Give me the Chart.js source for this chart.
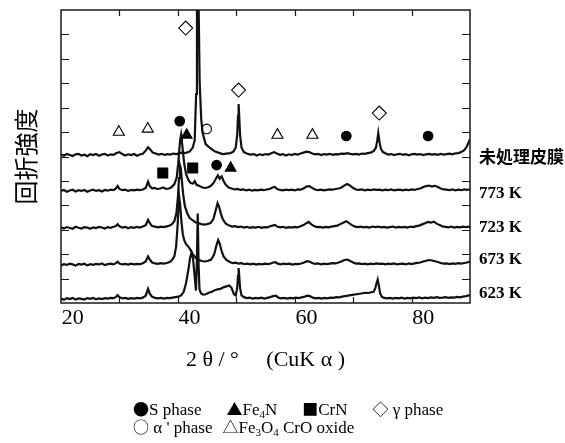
<!DOCTYPE html>
<html><head><meta charset="utf-8">
<script src="https://cdn.jsdelivr.net/npm/chart.js@4.4.1/dist/chart.umd.min.js"></script>
<style>
html,body{margin:0;padding:0;background:#fff;}
#wrap{position:relative;width:565px;height:443px;overflow:hidden;}
#c{position:absolute;left:0;top:0;}
#legend{position:absolute;left:133px;top:400px;font-family:"Liberation Serif",serif;font-size:17px;line-height:16px;color:#000;white-space:pre;}
#legend sub{font-size:11px;line-height:0;vertical-align:-3px;}
#legend .s{font-family:"Noto Sans CJK JP",sans-serif;font-size:16px;}
#legend .g{display:inline-block;width:25px;}
#legend .h{display:inline-block;width:10px;}
</style></head><body>
<div id="wrap"><canvas id="c" width="565" height="443"></canvas>
<div id="legend"><span class="s">●</span>S phase<span class="g"></span><span class="s">▲</span>Fe<sub>4</sub>N<span class="g"></span><span class="s">■</span>CrN<span class="g"></span><span class="s">◇</span> γ phase
<span class="s">○</span> α ' phase<span class="h"></span><span class="s">△</span>Fe<sub>3</sub>O<sub>4</sub> CrO oxide</div></div>
<script>
// ---- data: 2θ (deg, as read against the tick labels) , intensity (arb. units above each baseline)
const xTickLabels = [20, 40, 60, 80];
const traceNames = ['未処理皮膜', '773 K', '723 K', '673 K', '623 K'];
const patternOffsets = [6.06, 4.59, 3.07, 1.56, 0.16];

const pattern_untreated = [[18,0.02],[18.5,-0.03],[19,0.04],[19.5,0],[20,-0.04],[20.5,0.03],[21,0.05],[21.5,-0.02],[22,0.01],[22.5,-0.05],[23,0.03],[23.5,0],[24,0.04],[24.5,-0.03],[25,0.02],[25.5,0.05],[26,-0.02],[26.5,0.03],[27,0.01],[27.5,0.08],[28,0.12],[28.5,0.04],[29,-0.02],[29.5,0.03],[30,0],[30.5,0.04],[31,-0.03],[31.5,0.02],[32,0.05],[32.5,0.18],[32.9,0.32],[33.3,0.22],[33.7,0.1],[34.2,0.06],[34.7,0.02],[35.2,0.05],[35.7,0.01],[36.2,0.04],[36.7,0.02],[37.2,0.06],[37.7,0.04],[38.2,0.07],[38.6,0.1],[39,0.08],[39.5,0.1],[40,0.14],[40.54,0.3],[40.88,0.6],[41.13,2.5],[41.27,6],[41.39,9.5],[41.56,6],[41.73,3],[41.99,1.5],[42.24,0.9],[42.76,0.45],[43.44,0.3],[44.3,0.15],[45.15,0.08],[45.7,0.04],[46.3,0.06],[47,0.08],[47.5,0.14],[47.9,0.3],[48.15,0.8],[48.3,1.6],[48.4,2.09],[48.5,1.6],[48.65,0.8],[48.9,0.3],[49.3,0.12],[49.8,0.06],[50.4,0.02],[51,0.04],[51.5,-0.02],[52,0.03],[52.5,0],[53,0.04],[53.5,0.02],[54,0.07],[54.5,0.12],[55,0.05],[55.5,0.01],[56,0.04],[56.5,-0.02],[57,0.03],[57.5,0],[58,0.05],[58.5,0.02],[59,0.06],[59.5,0.1],[60,0.14],[60.5,0.12],[61,0.06],[61.5,0.03],[62,0.05],[62.5,0],[63,0.04],[63.5,0.02],[64,0.05],[64.5,0.01],[65,0.04],[65.5,0.03],[66,0.06],[66.5,0.05],[67,0.08],[67.5,0.05],[68,0.03],[68.5,0.05],[69,0.02],[69.5,0.06],[70,0.05],[70.5,0.08],[71,0.1],[71.5,0.16],[71.9,0.3],[72.1,0.55],[72.3,0.9],[72.5,0.55],[72.75,0.25],[73.1,0.12],[73.6,0.06],[74,0.02],[74.5,0.04],[75,0],[75.5,0.03],[76,0.05],[76.5,0.01],[77,0.04],[77.5,-0.01],[78,0.03],[78.5,0.05],[79,0.02],[79.5,0.04],[80,0],[80.5,0.03],[81,0.05],[81.5,0.02],[82,0.04],[82.5,0.01],[83,0.05],[83.5,0.02],[84,0.04],[84.5,0.06],[85,0.03],[85.5,0.07],[86,0.08],[86.5,0.12],[87,0.2],[87.4,0.32],[87.7,0.48],[88,0.65]];

const pattern_773K = [[18,0],[18.5,0.04],[19,-0.03],[19.5,0.02],[20,0.05],[20.5,-0.02],[21,0.03],[21.5,0],[22,0.04],[22.5,-0.03],[23,0.02],[23.5,0.05],[24,0],[24.5,0.03],[25,-0.02],[25.5,0.04],[26,0.01],[26.5,0.05],[27,0.03],[27.4,0.1],[27.7,0.2],[28,0.08],[28.5,0.03],[29,0.05],[29.5,0],[30,0.04],[30.5,0.02],[31,0.05],[31.5,0.03],[32,0.06],[32.5,0.12],[32.9,0.38],[33.2,0.2],[33.6,0.1],[34,0.12],[34.5,0.08],[35,0.1],[35.5,0.14],[36,0.08],[36.5,0.1],[36.9,0.15],[37.4,0.28],[37.8,0.55],[38.05,1.1],[38.25,1.7],[38.4,2.1],[38.55,2.3],[38.7,2],[38.9,1.55],[39.1,1.1],[39.4,0.7],[39.8,0.45],[40.2,0.32],[40.6,0.3],[40.9,0.4],[41.2,0.25],[41.7,0.2],[42.2,0.14],[42.7,0.12],[43.2,0.15],[43.6,0.2],[44.1,0.32],[44.5,0.5],[44.85,0.64],[45.15,0.5],[45.5,0.6],[45.8,0.42],[46.2,0.25],[46.7,0.14],[47.2,0.1],[47.7,0.06],[48.2,0.08],[48.7,0.04],[49.2,0.06],[49.7,0.02],[50.2,0.05],[50.7,0.01],[51.2,0.04],[51.7,0.02],[52.2,0.05],[52.7,0.03],[53.2,0.06],[53.7,0.08],[54.2,0.14],[54.6,0.16],[55,0.08],[55.5,0.04],[56,0.02],[56.5,0.05],[57,0.03],[57.5,0.05],[58,0.02],[58.5,0.06],[59,0.05],[59.5,0.1],[60,0.18],[60.5,0.2],[61,0.12],[61.5,0.06],[62,0.03],[62.5,0.05],[63,0.02],[63.5,0.04],[64,0.06],[64.5,0.05],[65,0.08],[65.5,0.1],[66,0.14],[66.5,0.22],[67,0.28],[67.5,0.22],[68,0.12],[68.5,0.06],[69,0.04],[69.5,0.06],[70,0.02],[70.5,0.05],[71,0.03],[71.5,0.06],[72,0.04],[72.5,0.05],[73,0.02],[73.5,0.05],[74,0.03],[74.5,0.06],[75,0.02],[75.5,0.04],[76,0.05],[76.5,0.02],[77,0.05],[77.5,0.03],[78,0.06],[78.5,0.04],[79,0.08],[79.5,0.1],[80,0.16],[80.5,0.2],[81,0.22],[81.5,0.18],[82,0.21],[82.5,0.16],[83,0.1],[83.5,0.06],[84,0.05],[84.5,0.03],[85,0.06],[85.5,0.02],[86,0.05],[86.5,0.03],[87,0.06],[87.5,0.04],[88,0.07]];

const pattern_723K = [[18,0.03],[18.5,-0.02],[19,0.04],[19.5,0],[20,-0.03],[20.5,0.05],[21,0.01],[21.5,-0.02],[22,0.04],[22.5,0.02],[23,-0.03],[23.5,0.03],[24,0],[24.5,0.05],[25,0.02],[25.5,-0.02],[26,0.04],[26.5,0.01],[27,0.05],[27.4,0.08],[27.7,0.16],[28,0.07],[28.5,0.02],[29,0.05],[29.5,-0.01],[30,0.04],[30.5,0.01],[31,0.05],[31.5,0.02],[32,0.06],[32.5,0.12],[32.9,0.34],[33.2,0.2],[33.6,0.08],[34.1,0.06],[34.6,0.03],[35.1,0.06],[35.6,0.04],[36.1,0.07],[36.6,0.1],[37,0.16],[37.4,0.28],[37.75,0.6],[38,1.25],[38.2,2.05],[38.35,2.58],[38.5,2.45],[38.7,1.9],[38.9,1.4],[39.2,0.9],[39.6,0.6],[40,0.42],[40.5,0.32],[41,0.24],[41.5,0.2],[42,0.16],[42.5,0.14],[43,0.16],[43.6,0.2],[44.1,0.38],[44.5,0.75],[44.8,1.02],[45.05,0.88],[45.35,0.6],[45.7,0.36],[46.2,0.18],[46.8,0.1],[47.3,0.06],[47.8,0.08],[48.3,0.04],[48.8,0.06],[49.3,0.02],[49.8,0.05],[50.3,0.01],[50.8,0.04],[51.3,0.02],[51.8,0.05],[52.3,0.01],[52.8,0.04],[53.3,0.03],[53.8,0.07],[54.2,0.1],[54.6,0.13],[55,0.06],[55.5,0.03],[56,0.05],[56.5,0.01],[57,0.04],[57.5,0.02],[58,0.05],[58.5,0.03],[59,0.07],[59.5,0.12],[60,0.2],[60.4,0.25],[60.8,0.16],[61.3,0.08],[61.8,0.04],[62.3,0.05],[62.8,0.02],[63.3,0.05],[63.8,0.03],[64.3,0.06],[64.8,0.08],[65.3,0.1],[65.8,0.16],[66.3,0.22],[66.8,0.28],[67.3,0.2],[67.8,0.12],[68.3,0.06],[68.8,0.04],[69.3,0.06],[69.8,0.03],[70.3,0.05],[70.8,0.02],[71.3,0.06],[71.8,0.04],[72.3,0.06],[72.8,0.03],[73.3,0.05],[73.8,0.02],[74.3,0.04],[74.8,0.06],[75.3,0.02],[75.8,0.05],[76.3,0.03],[76.8,0.05],[77.3,0.02],[77.8,0.06],[78.3,0.04],[78.8,0.08],[79.3,0.1],[79.8,0.15],[80.3,0.2],[80.8,0.25],[81.3,0.22],[81.8,0.26],[82.3,0.18],[82.8,0.12],[83.3,0.07],[83.8,0.05],[84.3,0.03],[84.8,0.06],[85.3,0.02],[85.8,0.05],[86.3,0.03],[86.8,0.06],[87.3,0.04],[88,0.06]];

const pattern_673K = [[18,-0.02],[18.5,0.03],[19,0],[19.5,0.05],[20,0.02],[20.5,-0.03],[21,0.04],[21.5,0.01],[22,0.05],[22.5,-0.02],[23,0.03],[23.5,0],[24,0.04],[24.5,0.02],[25,0.06],[25.5,-0.01],[26,0.03],[26.5,0.05],[27,0.02],[27.4,0.07],[27.7,0.13],[28,0.06],[28.5,0.02],[29,0.04],[29.5,0.01],[30,0.05],[30.5,0.02],[31,0.04],[31.5,0.03],[32,0.07],[32.5,0.14],[32.9,0.35],[33.2,0.22],[33.6,0.1],[34.1,0.06],[34.6,0.04],[35.1,0.07],[35.6,0.05],[36.1,0.08],[36.6,0.12],[37,0.2],[37.4,0.35],[37.7,0.75],[37.95,1.6],[38.1,2.3],[38.25,2.74],[38.4,2.45],[38.6,1.8],[38.85,1.25],[39.1,1],[39.4,0.85],[39.8,0.75],[40.2,0.6],[40.6,0.42],[41.1,0.28],[41.6,0.2],[42.1,0.16],[42.6,0.14],[43.1,0.16],[43.7,0.22],[44.2,0.42],[44.6,0.8],[44.9,1.02],[45.15,0.88],[45.45,0.6],[45.8,0.36],[46.3,0.2],[46.9,0.12],[47.4,0.07],[47.9,0.09],[48.4,0.05],[48.9,0.07],[49.4,0.03],[49.9,0.05],[50.4,0.02],[50.9,0.05],[51.4,0.01],[51.9,0.04],[52.4,0.02],[52.9,0.05],[53.4,0.03],[53.9,0.06],[54.3,0.1],[54.7,0.11],[55.1,0.05],[55.6,0.02],[56.1,0.05],[56.6,0.03],[57.1,0.05],[57.6,0.01],[58.1,0.04],[58.6,0.03],[59.1,0.06],[59.6,0.1],[60.1,0.15],[60.5,0.14],[61,0.08],[61.5,0.04],[62,0.06],[62.5,0.02],[63,0.05],[63.5,0.03],[64,0.05],[64.5,0.07],[65,0.06],[65.5,0.1],[66,0.14],[66.5,0.2],[67,0.22],[67.5,0.16],[68,0.1],[68.5,0.05],[69,0.06],[69.5,0.03],[70,0.05],[70.5,0.02],[71,0.05],[71.5,0.03],[72,0.06],[72.5,0.04],[73,0.05],[73.5,0.02],[74,0.05],[74.5,0.03],[75,0.06],[75.5,0.02],[76,0.04],[76.5,0.05],[77,0.02],[77.5,0.06],[78,0.03],[78.5,0.06],[79,0.08],[79.5,0.1],[80,0.14],[80.5,0.17],[81,0.2],[81.5,0.18],[82,0.15],[82.5,0.12],[83,0.08],[83.5,0.05],[84,0.06],[84.5,0.03],[85,0.06],[85.5,0.04],[86,0.07],[86.5,0.05],[87,0.08],[87.5,0.1],[88,0.14]];

const pattern_623K = [[18,0.02],[18.5,-0.03],[19,0.04],[19.5,0],[20,0.05],[20.5,-0.02],[21,0.03],[21.5,0.01],[22,-0.02],[22.5,0.04],[23,0.01],[23.5,0.05],[24,-0.01],[24.5,0.03],[25,0],[25.5,0.04],[26,0.02],[26.5,0.05],[27,0.04],[27.4,0.09],[27.7,0.16],[28,0.08],[28.5,0.03],[29,0.05],[29.5,0.01],[30,0.04],[30.5,0.02],[31,0.05],[31.5,0.03],[32,0.06],[32.5,0.14],[32.9,0.42],[33.2,0.22],[33.6,0.09],[34.1,0.05],[34.6,0.03],[35.1,0.05],[35.6,0.02],[36.1,0.05],[36.6,0.04],[37.1,0.06],[37.6,0.08],[38.1,0.1],[38.6,0.16],[39,0.3],[39.4,0.65],[39.8,1.2],[40.1,1.7],[40.35,1.9],[40.6,1.65],[40.85,1],[41.1,0.35],[41.25,1.5],[41.4,3.5],[41.55,1.4],[41.7,0.4],[41.95,0.24],[42.3,0.18],[42.8,0.2],[43.3,0.26],[43.8,0.3],[44.3,0.36],[44.8,0.4],[45.3,0.42],[45.8,0.48],[46.3,0.52],[46.8,0.56],[47.2,0.45],[47.6,0.2],[47.9,0.15],[48.15,0.45],[48.3,0.95],[48.4,1.27],[48.5,0.95],[48.65,0.45],[48.9,0.15],[49.3,0.08],[49.8,0.04],[50.3,0.06],[50.8,0.02],[51.3,0.05],[51.8,0.03],[52.3,0.06],[52.8,0.02],[53.3,0.05],[53.8,0.08],[54.3,0.12],[54.8,0.14],[55.2,0.06],[55.7,0.03],[56.2,0.05],[56.7,0.02],[57.2,0.05],[57.7,0.03],[58.2,0.06],[58.7,0.04],[59.2,0.07],[59.7,0.1],[60.2,0.14],[60.6,0.12],[61.1,0.06],[61.6,0.03],[62.1,0.05],[62.6,0.02],[63.1,0.05],[63.6,0.03],[64.1,0.06],[64.6,0.05],[65.1,0.08],[65.6,0.07],[66.1,0.1],[66.6,0.12],[67.1,0.14],[67.6,0.16],[68.1,0.18],[68.6,0.2],[69.1,0.22],[69.6,0.24],[70.1,0.26],[70.6,0.25],[71.1,0.28],[71.5,0.3],[71.8,0.45],[72,0.65],[72.2,0.8],[72.4,0.55],[72.6,0.25],[72.9,0.1],[73.3,0.05],[73.8,0.03],[74.3,0.05],[74.8,0.02],[75.3,0.05],[75.8,0.03],[76.3,0.06],[76.8,0.02],[77.3,0.05],[77.8,0.03],[78.3,0.06],[78.8,0.04],[79.3,0.07],[79.8,0.03],[80.3,0.06],[80.8,0.04],[81.3,0.07],[81.8,0.05],[82.3,0.08],[82.8,0.05],[83.3,0.06],[83.8,0.08],[84.3,0.05],[84.8,0.07],[85.3,0.06],[85.8,0.09],[86.3,0.07],[86.8,0.1],[87.3,0.12],[88,0.16]];

// phase marker positions (2θ, plot height)
const mark_S = [[38.32,7.45],[66.83,6.84],[80.83,6.84],[44.63,5.65]];
const mark_Fe4N = [[39.51,6.88],[47.03,5.53]];
const mark_CrN = [[35.42,5.32],[40.54,5.53]];
const mark_gamma = [[39.34,11.26],[48.39,8.72],[72.47,7.78]];
const mark_alphaPrime = [[42.93,7.13]];
const mark_oxide = [[27.9,7.0],[32.85,7.13],[55.05,6.88],[61.03,6.88]];

const innerTickX = [28, 38, 48, 58, 68, 78];
const innerTickY = [1,2,3,4,5,6,7,8,9,10,11];
</script>
<script>
const patterns = [pattern_untreated, pattern_773K, pattern_723K, pattern_673K, pattern_623K];
const traceLabelShift = [-0.06, -0.1, 0.0, 0.2, 0.22];

const traceSets = patterns.map((p, i) => ({
  label: traceNames[i],
  data: p.map(([x, y]) => ({x, y: y + patternOffsets[i]})),
  showLine: true, borderColor: '#111', borderWidth: 2.2,
  pointRadius: 0, pointHoverRadius: 0, fill: false, tension: 0, order: 2
}));
function markSet(name, pts, style, filled, r) {
  return {
    label: name, data: pts.map(([x, y]) => ({x, y})), showLine: false,
    pointStyle: style, pointRadius: r, pointHoverRadius: r,
    pointBackgroundColor: filled ? '#000' : 'rgba(0,0,0,0)',
    pointBorderColor: '#000', pointBorderWidth: 1.1, order: 1
  };
}
const markSets = [
  markSet('S phase', mark_S, 'circle', true, 4.8),
  markSet('Fe4N', mark_Fe4N, 'triangle', true, 6.2),
  markSet('CrN', mark_CrN, 'rect', true, 7),
  markSet('γ phase', mark_gamma, 'rectRot', false, 7),
  markSet("α' phase", mark_alphaPrime, 'circle', false, 4.8),
  markSet('Fe3O4 CrO oxide', mark_oxide, 'triangle', false, 6.4)
];

const framePlugin = {
  id: 'frame',
  afterDatasetsDraw(chart) {
    const {ctx, chartArea: {left, right, top, bottom}, scales: {x, y}} = chart;
    ctx.save();
    ctx.strokeStyle = '#1a1a1a';
    ctx.lineWidth = 1.5;
    ctx.strokeRect(left, top, right - left, bottom - top);
    ctx.lineWidth = 1.2;
    ctx.beginPath();
    innerTickX.forEach(v => {
      const px = Math.round(x.getPixelForValue(v)) + 0.5;
      ctx.moveTo(px, top); ctx.lineTo(px, top + 6);
      ctx.moveTo(px, bottom); ctx.lineTo(px, bottom - 6);
    });
    innerTickY.forEach(v => {
      const py = Math.round(y.getPixelForValue(v)) + 0.5;
      ctx.moveTo(left, py); ctx.lineTo(left + 8, py);
      ctx.moveTo(right, py); ctx.lineTo(right - 8, py);
    });
    ctx.stroke();
    ctx.fillStyle = '#000';
    ctx.textBaseline = 'middle';
    ctx.textAlign = 'left';
    traceNames.forEach((n, i) => {
      ctx.font = i === 0 ? 'bold 17px "Noto Sans CJK JP"' : 'bold 17px "Liberation Serif"';
      ctx.fillText(n, right + 9, y.getPixelForValue(patternOffsets[i] + traceLabelShift[i]));
    });
    ctx.restore();
  }
};

const PAD = {left: 11, right: 95, top: 10, bottom: 70};
new Chart(document.getElementById('c'), {
  type: 'scatter',
  data: {datasets: [...markSets, ...traceSets]},
  options: {
    responsive: false, animation: false, devicePixelRatio: 1,
    layout: {padding: PAD},
    plugins: {legend: {display: false}, tooltip: {enabled: false}},
    scales: {
      x: {
        type: 'linear', min: 18, max: 88,
        afterBuildTicks: s => { s.ticks = xTickLabels.map(v => ({value: v})); },
        afterFit: s => { s.height = 443 - PAD.bottom - 303; },
        grid: {display: false, drawTicks: false},
        border: {display: false},
        ticks: {color: '#000', font: {family: 'Liberation Serif', size: 22}, padding: 2, maxRotation: 0, autoSkip: false, callback: v => String(v)},
        title: {display: true, text: '2 θ / °　 (CuK α )', color: '#000', font: {family: 'Liberation Serif', size: 22}, padding: {top: 0, bottom: 0}}
      },
      y: {
        min: 0, max: 12,
        afterFit: s => { s.width = 61 - PAD.left; },
        grid: {display: false, drawTicks: false},
        border: {display: false},
        ticks: {display: false},
        title: {display: true, text: '回折強度', color: '#000', font: {family: 'Noto Sans CJK JP', size: 24}, padding: {top: 0, bottom: 0}}
      }
    }
  },
  plugins: [framePlugin]
});
</script>
</body></html>
